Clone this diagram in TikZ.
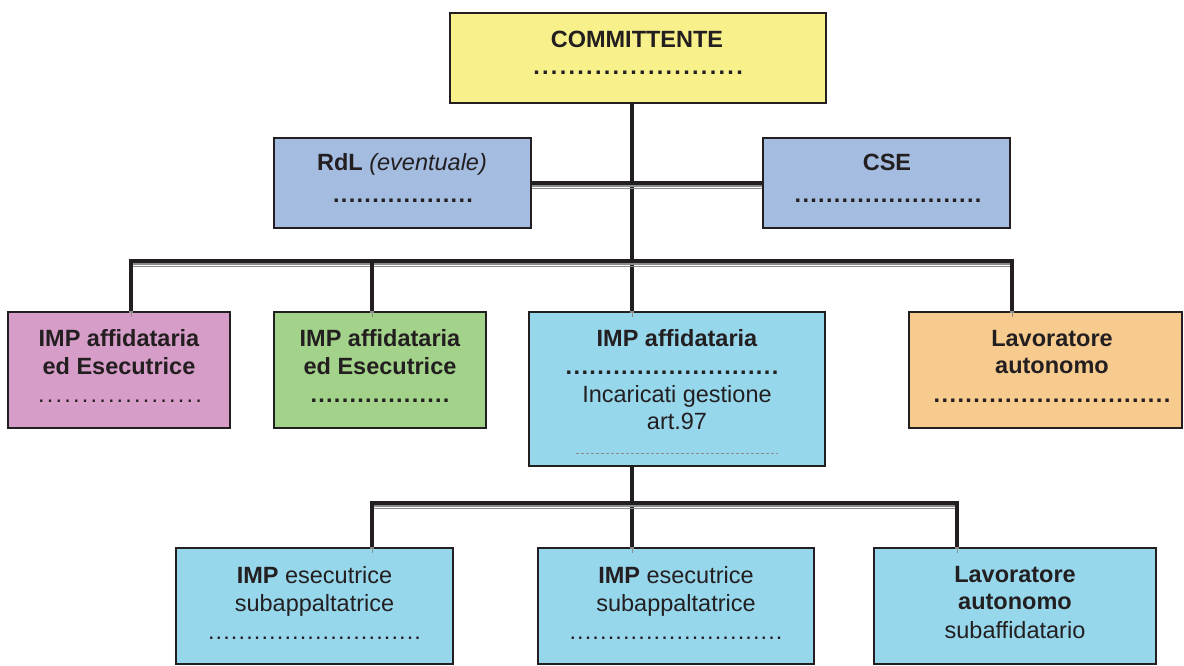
\documentclass[tikz,border=0pt]{standalone}
\usepackage{fontspec}
\setmainfont{Liberation Sans}
\definecolor{ink}{HTML}{231F20}
\definecolor{cyel}{HTML}{F8F08A}
\definecolor{cblu}{HTML}{A3BCE0}
\definecolor{cpink}{HTML}{D69DC8}
\definecolor{cgreen}{HTML}{A3D38A}
\definecolor{clblu}{HTML}{96D7EC}
\definecolor{corange}{HTML}{F7CB8E}
\definecolor{shade}{HTML}{8C8C8C}
\newcommand\dotsrow[3]{\hbox to #1pt{\xleaders\hbox to #2pt{\hss#3.\hss}\hfill}}
\begin{document}
\begin{tikzpicture}[x=1pt,y=-1pt,
  box/.style={draw=ink, line width=2pt, inner sep=0pt},
  txt/.style={inner sep=0pt, anchor=base, text=ink, font=\fontsize{23.5}{28}\selectfont},
  conn/.style={draw=ink, line width=4.5pt, line join=miter,
    preaction={draw=shade, line width=4.5pt, transform canvas={yshift=-2pt}},
    preaction={draw=shade, line width=0.8pt, transform canvas={yshift=-5.5pt}}},
  sepline/.style={draw=shade, line width=0.6pt, dash pattern=on 3pt off 2pt}]
\useasboundingbox (0,0) rectangle (1184,666);
% boxes
\node[box, fill=cyel, minimum width=376pt, minimum height=90pt] (comm) at (638,58) {};
\node[box, fill=cblu, minimum width=257pt, minimum height=90pt] (rdl) at (402.5,183) {};
\node[box, fill=cblu, minimum width=247pt, minimum height=90pt] (cse) at (886.5,183) {};
\node[box, fill=cpink, minimum width=222pt, minimum height=116pt] (pink) at (119,370) {};
\node[box, fill=cgreen, minimum width=212pt, minimum height=116pt] (green) at (380,370) {};
\node[box, fill=clblu, minimum width=296pt, minimum height=154pt] (aff) at (677,389) {};
\node[box, fill=corange, minimum width=273pt, minimum height=116pt] (orange) at (1045.5,370) {};
\node[box, fill=clblu, minimum width=277pt, minimum height=116pt] (b1) at (314.5,606) {};
\node[box, fill=clblu, minimum width=276pt, minimum height=116pt] (b2) at (676,606) {};
\node[box, fill=clblu, minimum width=282pt, minimum height=116pt] (b3) at (1015,606) {};
% junctions
\coordinate (jL) at (131,261);
\coordinate (jG) at (372,261);
\coordinate (jM) at (632,261);
\coordinate (jR) at (1012,261);
\coordinate (kL) at (372,503);
\coordinate (kM) at (632,503);
\coordinate (kR) at (957,503);
% connectors
\draw[conn] (jM |- comm.south) -- (jM |- aff.north);
\draw[conn] (rdl.east) -- (cse.west);
\draw[conn] (jL |- pink.north) -- (jL) -- (jR) -- (jR |- orange.north);
\draw[conn] (jG) -- (jG |- green.north);
\draw[conn] (kM |- aff.south) -- (kM |- b2.north);
\draw[conn] (kL |- b1.north) -- (kL) -- (kR) -- (kR |- b3.north);
% texts
\node[txt] (t1) at (637,48) {\bfseries COMMITTENTE};
\node[txt] (t1d) at (638,75) {\bfseries\dotsrow{212}{8.5}{}};
\node[txt] (t2) at (402,171) {\bfseries RdL \mdseries\itshape(eventuale)};
\node[txt] (t2d) at (403,202) {\bfseries\dotsrow{141}{7.8}{}};
\node[txt] (t3) at (887,171) {\bfseries CSE};
\node[txt] (t3d) at (888,202) {\bfseries\dotsrow{188}{7.8}{}};
\node[txt] (t4a) at (119,346) {\bfseries IMP affidataria};
\node[txt] (t4b) at (119,374) {\bfseries ed Esecutrice};
\node[txt] (t4d) at (120,402) {\dotsrow{166}{8.6}{}};
\node[txt] (t5a) at (380,346) {\bfseries IMP affidataria};
\node[txt] (t5b) at (380,374) {\bfseries ed Esecutrice};
\node[txt] (t5d) at (380,402) {\bfseries\dotsrow{140}{7.7}{}};
\node[txt] (t6a) at (677,346) {\bfseries IMP affidataria};
\node[txt] (t6d) at (672,374) {\bfseries\dotsrow{214}{7.9}{}};
\node[txt] (t6b) at (677,402) {Incaricati gestione};
\node[txt] (t6c) at (677,429) {art.97};
\draw[sepline] (576,453) -- (778,453);
\node[txt] (t7a) at (1052,346) {\bfseries Lavoratore};
\node[txt] (t7b) at (1052,373) {\bfseries autonomo};
\node[txt] (t7d) at (1052,402) {\bfseries\dotsrow{238}{7.9}{}};
\node[txt] (t8a) at (314.5,583) {\bfseries IMP \mdseries esecutrice};
\node[txt] (t8b) at (314.5,611) {subappaltatrice};
\node[txt] (t8d) at (314.5,639) {\dotsrow{214}{7.6}{}};
\node[txt] (t9a) at (676,583) {\bfseries IMP \mdseries esecutrice};
\node[txt] (t9b) at (676,611) {subappaltatrice};
\node[txt] (t9d) at (676,639) {\dotsrow{214}{7.6}{}};
\node[txt] (t10a) at (1015,582) {\bfseries Lavoratore};
\node[txt] (t10b) at (1015,609) {\bfseries autonomo};
\node[txt] (t10c) at (1015,638) {subaffidatario};
\end{tikzpicture}
\end{document}
